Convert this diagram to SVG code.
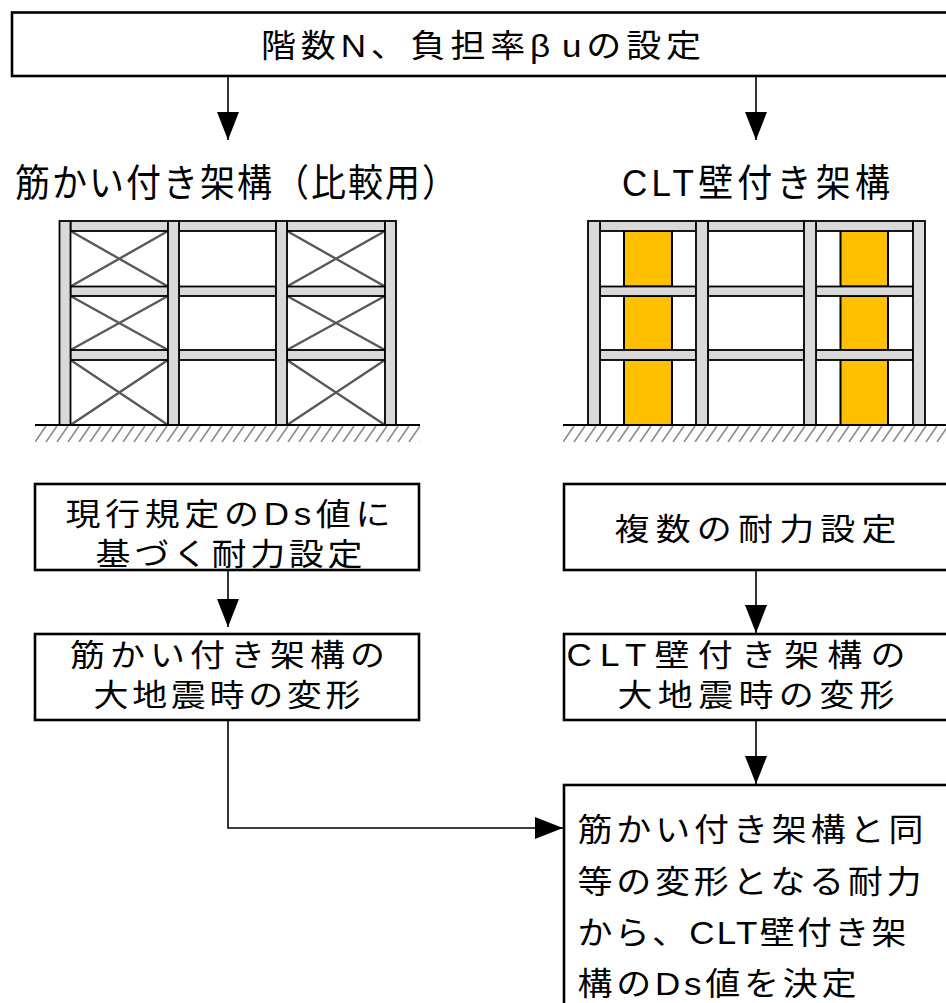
<svg xmlns="http://www.w3.org/2000/svg" width="946" height="1003" viewBox="0 0 946 1003">
<defs>
<style>
.box{fill:#fff;stroke:#000;stroke-width:2.6}
.t{font-family:"Liberation Sans","Noto Sans CJK JP",sans-serif;fill:#000;font-size:35px}
.col{fill:#d9d9d9;stroke:#000;stroke-width:1.8}
.brace{stroke:#595959;stroke-width:2.4;fill:none}
.clt{fill:#FFC000;stroke:#000;stroke-width:2}
.ground{stroke:#000;stroke-width:2;fill:none}
.conn{stroke:#000;stroke-width:1.6;fill:none}
</style>
<marker id="ah" markerUnits="userSpaceOnUse" markerWidth="28" markerHeight="22" refX="28" refY="11" orient="auto">
<path d="M0,0 L28,11 L0,22 z" fill="#000"/>
</marker>
<pattern id="hatch" patternUnits="userSpaceOnUse" x="35" y="426" width="11" height="16">
<path d="M0,16 L11,0 M-11,16 L0,0 M11,16 L22,0" stroke="#8c8c8c" stroke-width="1.6"/>
</pattern>
</defs>
<rect width="946" height="1003" fill="#fff"/>

<g id="node-top">
<rect class="box" x="12" y="12.5" width="936" height="63.5"/>
<text class="t" transform="translate(261,57) scale(1,0.92)" textLength="440" lengthAdjust="spacing">階数N、負担率β<tspan dx="7">u</tspan>の設定</text>
</g>

<g id="frame-braced">
<text class="t" transform="translate(15,196) scale(1,1.08)" textLength="442" lengthAdjust="spacing">筋かい付き架構（比較用）</text>
<rect x="35" y="426" width="385" height="16" fill="url(#hatch)"/>
<g class="brace">
<path d="M70.5,231 L168,286.5 M168,231 L70.5,286.5 M70.5,296 L168,350 M168,296 L70.5,350 M70.5,360 L168,425 M168,360 L70.5,425"/>
<path d="M287,231 L385,286.5 M385,231 L287,286.5 M287,296 L385,350 M385,296 L287,350 M287,360 L385,425 M385,360 L287,425"/>
</g>
<g class="col">
<rect x="70.5" y="221" width="97.5" height="10"/>
<rect x="179" y="221" width="97" height="10"/>
<rect x="287" y="221" width="98" height="10"/>
<rect x="70.5" y="286.5" width="97.5" height="9.5"/>
<rect x="179" y="286.5" width="97" height="9.5"/>
<rect x="287" y="286.5" width="98" height="9.5"/>
<rect x="70.5" y="350" width="97.5" height="10"/>
<rect x="179" y="350" width="97" height="10"/>
<rect x="287" y="350" width="98" height="10"/>
<rect x="59.5" y="221" width="11" height="204"/>
<rect x="168" y="221" width="11" height="204"/>
<rect x="276" y="221" width="11" height="204"/>
<rect x="385" y="221" width="11" height="204"/>
</g>
<path class="ground" d="M35,425 H420"/>
</g>

<g id="frame-clt">
<text class="t" transform="translate(622,196) scale(1,1.08)" textLength="268" lengthAdjust="spacing">CLT壁付き架構</text>
<rect x="563" y="426" width="383" height="16" fill="url(#hatch)"/>
<g class="clt">
<rect x="624" y="231" width="48" height="55.5"/>
<rect x="624" y="296" width="48" height="54"/>
<rect x="624" y="360" width="48" height="65"/>
<rect x="840.5" y="231" width="47.5" height="55.5"/>
<rect x="840.5" y="296" width="47.5" height="54"/>
<rect x="840.5" y="360" width="47.5" height="65"/>
</g>
<g class="col">
<rect x="600" y="221" width="96" height="10"/>
<rect x="708" y="221" width="96" height="10"/>
<rect x="816" y="221" width="97" height="10"/>
<rect x="600" y="286.5" width="96" height="9.5"/>
<rect x="708" y="286.5" width="96" height="9.5"/>
<rect x="816" y="286.5" width="97" height="9.5"/>
<rect x="600" y="350" width="96" height="10"/>
<rect x="708" y="350" width="96" height="10"/>
<rect x="816" y="350" width="97" height="10"/>
<rect x="588" y="221" width="12" height="204"/>
<rect x="696" y="221" width="12" height="204"/>
<rect x="804" y="221" width="12" height="204"/>
<rect x="913" y="221" width="12" height="204"/>
</g>
<path class="ground" d="M563,425 H946"/>
</g>

<g id="node-current-ds">
<rect class="box" x="35" y="484" width="384" height="86"/>
<text class="t" transform="translate(65.5,525) scale(1,0.88)" textLength="325" lengthAdjust="spacing">現行規定のDs値に</text>
<text class="t" transform="translate(95.5,565) scale(1,0.88)" textLength="267" lengthAdjust="spacing">基づく耐力設定</text>
</g>

<g id="node-braced-deform">
<rect class="box" x="35" y="634" width="384" height="86"/>
<text class="t" transform="translate(70,666) scale(1,0.88)" textLength="315" lengthAdjust="spacing">筋かい付き架構の</text>
<text class="t" transform="translate(93.5,706) scale(1,0.88)" textLength="267" lengthAdjust="spacing">大地震時の変形</text>
</g>

<g id="node-multi-strength">
<rect class="box" x="564" y="484" width="384" height="86"/>
<text class="t" transform="translate(614.5,540) scale(1,0.88)" textLength="282" lengthAdjust="spacing">複数の耐力設定</text>
</g>

<g id="node-clt-deform">
<rect class="box" x="564" y="634" width="384" height="86"/>
<text class="t" transform="translate(566.5,666) scale(1,0.88)" textLength="339" lengthAdjust="spacing">CLT壁付き架構の</text>
<text class="t" transform="translate(617.5,706) scale(1,0.88)" textLength="277" lengthAdjust="spacing">大地震時の変形</text>
</g>

<g id="node-decide">
<rect class="box" x="564" y="785" width="400" height="260"/>
<text class="t" transform="translate(577.5,841) scale(1,0.9)" textLength="346" lengthAdjust="spacing">筋かい付き架構と同</text>
<text class="t" transform="translate(577.5,893) scale(1,0.9)" textLength="344" lengthAdjust="spacing">等の変形となる耐力</text>
<text class="t" transform="translate(577.5,944) scale(1,0.9)" textLength="329" lengthAdjust="spacing">から、CLT壁付き架</text>
<text class="t" transform="translate(577.5,995) scale(1,0.9)" textLength="279" lengthAdjust="spacing">構のDs値を決定</text>
</g>

<g id="connectors" class="conn">
<path d="M228,76 V140" marker-end="url(#ah)"/>
<path d="M756,76 V140" marker-end="url(#ah)"/>
<path d="M228,570 V627" marker-end="url(#ah)"/>
<path d="M756,570 V633" marker-end="url(#ah)"/>
<path d="M228,720 V828 H563" marker-end="url(#ah)"/>
<path d="M756,720 V784" marker-end="url(#ah)"/>
</g>
</svg>
